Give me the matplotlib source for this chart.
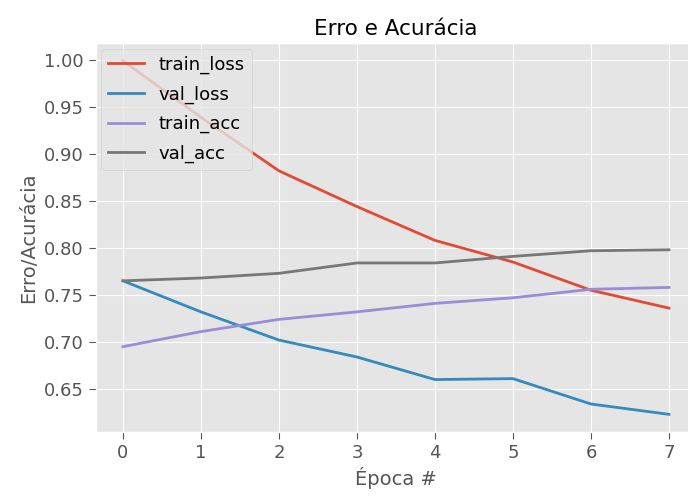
import numpy as np
import matplotlib
matplotlib.use("Agg")
import matplotlib.pyplot as plt

# valores
epocas = np.arange(0, 8)
train_loss = [0.999, 0.939, 0.882, 0.844, 0.808, 0.785, 0.755, 0.736]
val_loss = [0.765, 0.732, 0.702, 0.684, 0.660, 0.661, 0.634, 0.623]
train_acc = [0.695, 0.711, 0.724, 0.732, 0.741, 0.747, 0.756, 0.758]
val_acc = [0.765, 0.768, 0.773, 0.784, 0.784, 0.791, 0.797, 0.798]

plt.style.use("ggplot")
plt.rcParams["xtick.labelsize"] = 13
plt.rcParams["ytick.labelsize"] = 13
plt.rcParams["xtick.major.size"] = 5
plt.rcParams["ytick.major.size"] = 5

fig = plt.figure(figsize=(6.88, 4.96), dpi=100)
plt.plot(epocas, train_loss, label="train_loss", lw=2)
plt.plot(epocas, val_loss, label="val_loss", lw=2)
plt.plot(epocas, train_acc, label="train_acc", lw=2)
plt.plot(epocas, val_acc, label="val_acc", lw=2)
plt.title("Erro e Acurácia", fontsize=15.5)
plt.xlabel("Época #", fontsize=14)
plt.ylabel("Erro/Acurácia", fontsize=14)
plt.legend(loc="upper left", fontsize=13, borderaxespad=0.3, labelspacing=0.63)
# o print original estava cortado à direita
plt.subplots_adjust(left=0.139, right=1.012, top=0.913, bottom=0.129)
plt.savefig("out.png", dpi=100)
